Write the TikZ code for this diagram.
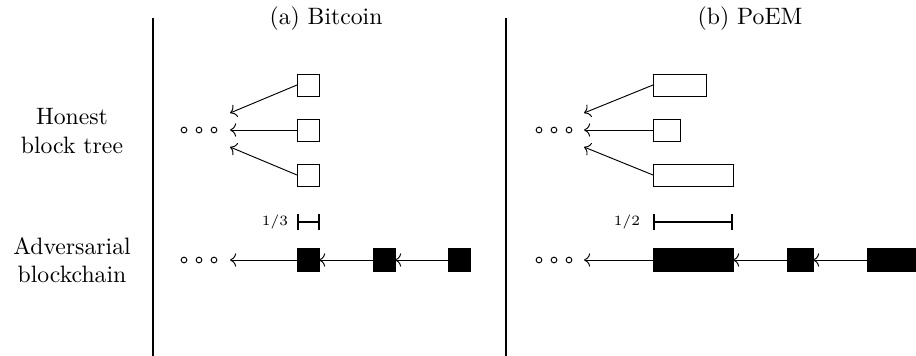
\documentclass[tikz,border=0pt]{standalone}
\usetikzlibrary{arrows.meta}
\tikzset{
  blk/.style={draw, line width=0.4pt, inner sep=0pt, outer sep=0pt},
  hblk/.style={blk, fill=white},
  ablk/.style={blk, fill=black},
  link/.style={-{To[length=2.6pt,width=5.6pt]}, line width=0.4pt},
  sep/.style={line width=0.8pt},
  ruler/.style={|-|, line width=0.9pt},
  lbl/.style={align=center, font=\normalsize},
  pt/.style={circle, draw, line width=0.4pt, inner sep=0pt, minimum size=2.4pt},
  frac/.style={font=\fontsize{6}{7}\selectfont},
}
\begin{document}
\begin{tikzpicture}[x=0.422pt, y=-0.422pt]
\useasboundingbox (0,0) rectangle (916,356);
\begin{scope}
\clip (0,0) rectangle (916,356);

% separators
\draw[sep] (153,18) -- (153,356);
\draw[sep] (506,18) -- (506,356);

% headings and row labels
\node[lbl] (ta) at (326,19) {(a) Bitcoin};
\node[lbl] (tb) at (750,19) {(b) PoEM};
\node[lbl] (lh) at (72,131) {Honest\\block tree};
\node[lbl] (la) at (72,260) {Adversarial\\blockchain};

% ---------- (a) Bitcoin ----------
\foreach \i/\x in {1/184,2/199,3/214} {
  \node[pt] (dha\i) at (\x,130) {};
  \node[pt] (daa\i) at (\x,260) {};
}
\coordinate (ta1) at (230,113);
\coordinate (ta2) at (230,130);
\coordinate (ta3) at (230,147);
\node[hblk, minimum width=22*0.422pt, minimum height=22*0.422pt] (ha1) at (308,85) {};
\node[hblk, minimum width=22*0.422pt, minimum height=22*0.422pt] (ha2) at (308,130) {};
\node[hblk, minimum width=22*0.422pt, minimum height=22*0.422pt] (ha3) at (308,175) {};
\draw[link] (ha1.west) -- (ta1);
\draw[link] (ha2.west) -- (ta2);
\draw[link] (ha3.west) -- (ta3);

\node[frac] (ra) at (275,222) {1/3};
\coordinate (ra1) at (297,222);
\coordinate (ra2) at (320,222);
\draw[ruler] (ra1) -- (ra2);

\coordinate (tca) at (230,260);
\node[ablk, minimum width=22*0.422pt, minimum height=23*0.422pt] (aa1) at (308,260) {};
\node[ablk, minimum width=22*0.422pt, minimum height=23*0.422pt] (aa2) at (384,260) {};
\node[ablk, minimum width=22*0.422pt, minimum height=23*0.422pt] (aa3) at (459,260) {};
\draw[link] (aa1.west) -- (tca);
\draw[link] (aa2.west) -- (aa1.east);
\draw[link] (aa3.west) -- (aa2.east);

% ---------- (b) PoEM ----------
\foreach \i/\x in {1/539,2/554,3/569} {
  \node[pt] (dhb\i) at (\x,130) {};
  \node[pt] (dab\i) at (\x,260) {};
}
\coordinate (tb1) at (584,113);
\coordinate (tb2) at (584,130);
\coordinate (tb3) at (584,147);
\node[hblk, minimum width=53*0.422pt, minimum height=22*0.422pt] (hb1) at (679.5,85) {};
\node[hblk, minimum width=27*0.422pt, minimum height=22*0.422pt] (hb2) at (666.5,130) {};
\node[hblk, minimum width=80*0.422pt, minimum height=22*0.422pt] (hb3) at (693,175) {};
\draw[link] (hb1.west) -- (tb1);
\draw[link] (hb2.west) -- (tb2);
\draw[link] (hb3.west) -- (tb3);

\node[frac] (rb) at (627,222) {1/2};
\coordinate (rb1) at (653,222);
\coordinate (rb2) at (733,222);
\draw[ruler] (rb1) -- (rb2);

\coordinate (tcb) at (584,260);
\node[ablk, minimum width=80*0.422pt, minimum height=23*0.422pt] (ab1) at (693,260) {};
\node[ablk, minimum width=26*0.422pt, minimum height=23*0.422pt] (ab2) at (800,260) {};
\node[ablk, minimum width=80*0.422pt, minimum height=23*0.422pt] (ab3) at (907,260) {};
\draw[link] (ab1.west) -- (tcb);
\draw[link] (ab2.west) -- (ab1.east);
\draw[link] (ab3.west) -- (ab2.east);
\end{scope}
\end{tikzpicture}
\end{document}
